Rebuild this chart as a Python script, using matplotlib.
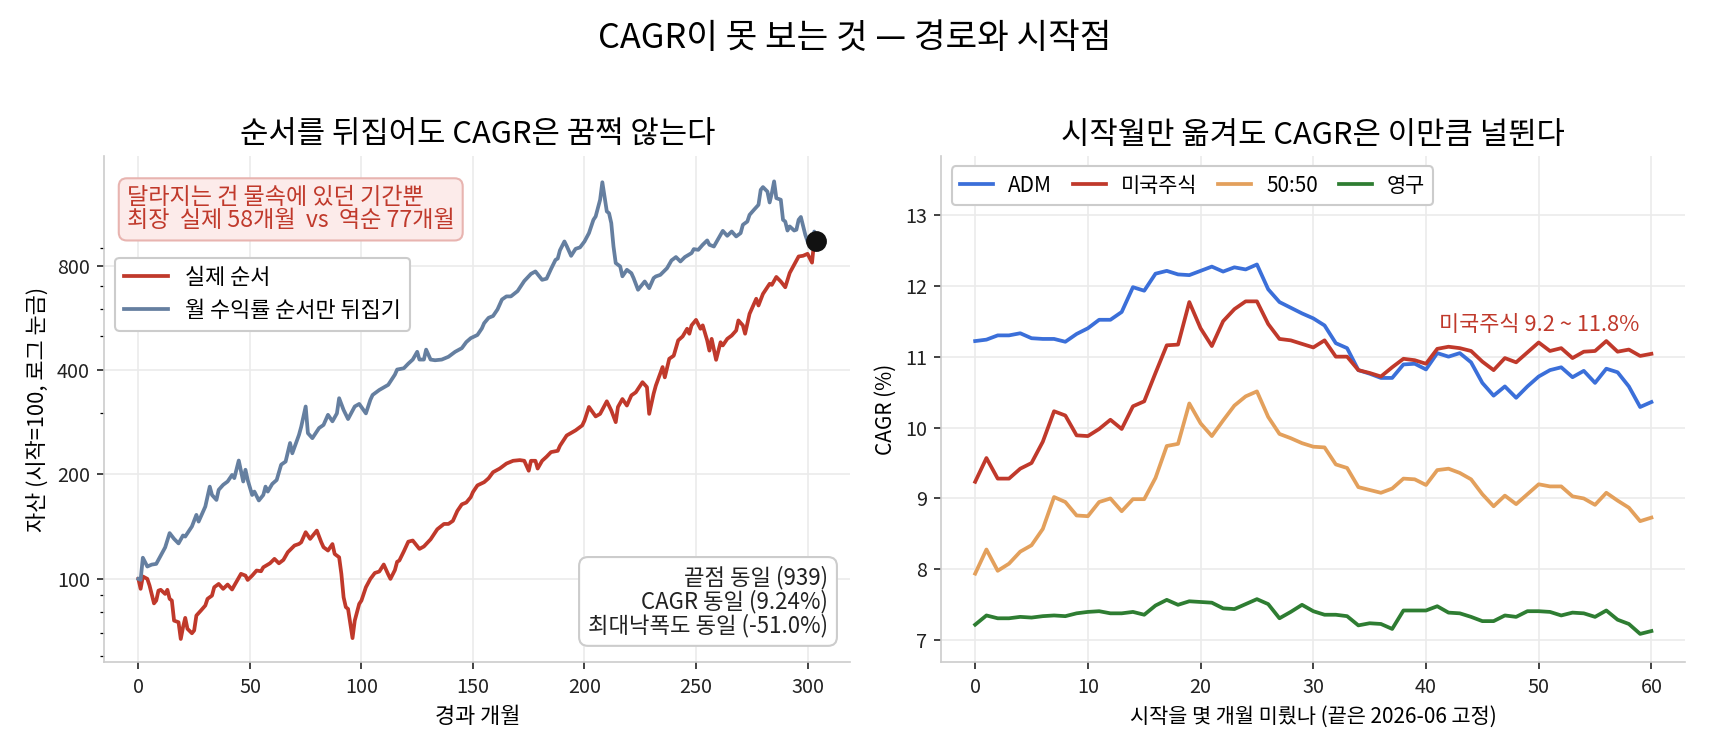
import numpy as np
import matplotlib.pyplot as plt
from matplotlib.ticker import FixedLocator, FixedFormatter, NullFormatter

plt.rcParams['font.family'] = ['Noto Sans CJK KR', 'DejaVu Sans']
plt.rcParams['axes.unicode_minus'] = False

# 왼쪽: 실제 순서 자산 경로 (읽어낸 값, 월 단위)
red_months = [0, 1, 2, 4, 5, 7, 8, 9, 10, 12, 13, 14, 15, 16, 18, 19, 20, 21, 22, 24,
              25, 26, 28, 30, 31, 33, 34, 36, 38, 40, 42, 43, 46, 48, 49, 51, 53, 55, 56, 59,
              61, 63, 65, 67, 70, 72, 73, 75, 77, 80, 82, 83, 85, 87, 88, 90, 91, 92, 93, 94,
              96, 97, 99, 100, 102, 104, 106, 108, 110, 112, 113, 115, 116, 117, 119, 121, 123, 126, 128, 131,
              134, 137, 139, 141, 143, 145, 147, 149, 150, 152, 155, 157, 159, 162, 165, 168, 171, 173, 175, 176,
              178, 179, 181, 183, 185, 188, 189, 192, 196, 199, 200, 202, 205, 207, 210, 212, 214, 215, 217, 219,
              221, 223, 226, 228, 229, 231, 232, 235, 236, 238, 240, 242, 244, 246, 247, 248, 250, 252, 253, 255,
              256, 257, 259, 261, 262, 264, 266, 268, 269, 271, 272, 274, 277, 278, 280, 283, 284, 286, 288, 290,
              292, 294, 296, 298, 300, 302, 303, 304]
red_values = [100, 93.6, 101.6, 100, 95.7, 85, 86.6, 92.5, 93, 90.5, 93, 87.6, 86.6, 75.8, 75, 67.1, 72.5, 77.2, 71.8, 69.7,
              71, 78.4, 81, 83.8, 87.6, 89.5, 94.6, 96.7, 93.6, 96.3, 93.2, 95.7, 103.4, 102.2, 99.3, 102.2, 105.7, 105.2, 108, 110.9,
              114.2, 110.9, 113.4, 119.4, 124.8, 126.1, 127.5, 136.3, 130.4, 137.8, 127.5, 123.4, 120.7, 126, 118, 115.4, 103.4, 88.5, 82.9, 81.9,
              67.5, 75.8, 84.7, 86.6, 94.6, 100, 104, 105, 110, 103, 100, 106, 112, 113, 120, 128, 129, 122, 124, 130,
              139, 144, 144, 147, 157, 164, 166, 172, 178, 186, 190, 195, 203, 208, 215, 219, 220, 219, 205, 219,
              219, 208, 219, 225, 232, 234, 242, 259, 268, 277, 286, 313, 294, 299, 325, 306, 283, 313, 330, 316,
              338, 345, 369, 357, 299, 342, 361, 408, 381, 431, 440, 487, 500, 526, 509, 538, 558, 526, 538, 487,
              455, 492, 428, 481, 471, 492, 503, 520, 556, 538, 509, 581, 642, 614, 663, 709, 704, 742, 720, 693,
              762, 805, 850, 854, 865, 816, 945, 939]

# 오른쪽: 시작월을 미룬 개월 수별 CAGR (%)
shift_months = list(range(61))
adm_cagr = [11.22, 11.24, 11.30, 11.30, 11.33, 11.26, 11.25, 11.25, 11.21, 11.32,
            11.40, 11.52, 11.52, 11.63, 11.98, 11.93, 12.17, 12.21, 12.16, 12.15,
            12.21, 12.27, 12.20, 12.26, 12.23, 12.30, 11.95, 11.77, 11.69, 11.61,
            11.54, 11.44, 11.19, 11.12, 10.81, 10.76, 10.70, 10.70, 10.89, 10.90,
            10.82, 11.05, 11.00, 11.05, 10.92, 10.63, 10.45, 10.58, 10.42, 10.58,
            10.72, 10.81, 10.85, 10.71, 10.80, 10.63, 10.83, 10.78, 10.58, 10.29, 10.36]
us_cagr = [9.235, 9.57, 9.28, 9.28, 9.42, 9.50, 9.80, 10.23, 10.17, 9.89,
           9.88, 9.98, 10.11, 9.98, 10.30, 10.37, 10.77, 11.16, 11.17, 11.77,
           11.40, 11.15, 11.50, 11.67, 11.78, 11.78, 11.46, 11.25, 11.23, 11.18,
           11.13, 11.23, 11.00, 11.00, 10.81, 10.77, 10.72, 10.85, 10.97, 10.95,
           10.90, 11.11, 11.14, 11.12, 11.08, 10.93, 10.81, 10.98, 10.92, 11.06,
           11.20, 11.08, 11.12, 10.98, 11.07, 11.08, 11.22, 11.07, 11.10, 11.01, 11.04]
mix_cagr = [7.94, 8.28, 7.98, 8.08, 8.25, 8.34, 8.57, 9.02, 8.95, 8.76,
            8.75, 8.95, 9.00, 8.82, 8.99, 8.99, 9.29, 9.74, 9.77, 10.34,
            10.06, 9.88, 10.10, 10.31, 10.44, 10.51, 10.15, 9.91, 9.85, 9.78,
            9.73, 9.72, 9.48, 9.43, 9.16, 9.12, 9.08, 9.14, 9.28, 9.27,
            9.19, 9.40, 9.42, 9.36, 9.27, 9.06, 8.89, 9.04, 8.92, 9.06,
            9.20, 9.17, 9.17, 9.03, 9.00, 8.91, 9.08, 8.97, 8.87, 8.68, 8.73]
perm_cagr = [7.22, 7.35, 7.31, 7.31, 7.33, 7.32, 7.34, 7.35, 7.34, 7.38,
             7.40, 7.41, 7.38, 7.38, 7.40, 7.36, 7.49, 7.57, 7.50, 7.55,
             7.54, 7.53, 7.45, 7.44, 7.51, 7.58, 7.51, 7.31, 7.40, 7.50,
             7.41, 7.36, 7.36, 7.34, 7.21, 7.24, 7.23, 7.16, 7.42, 7.42,
             7.42, 7.48, 7.39, 7.38, 7.33, 7.27, 7.27, 7.35, 7.33, 7.41,
             7.41, 7.40, 7.35, 7.39, 7.38, 7.33, 7.42, 7.29, 7.23, 7.09, 7.13]

RED = '#c0392b'
SLATE = '#657fa0'

# 월 수익률 순서를 뒤집으면 B[k] = 끝값 * 100 / A[N-k]
red_m = np.array(red_months)
red_v = np.array(red_values, dtype=float)
N = red_m[-1]
rev_m = N - red_m[::-1]
rev_v = red_v[-1] * 100 / red_v[::-1]

fig = plt.figure(figsize=(11.4, 5), dpi=150)
ax1 = fig.add_axes([0.0611, 0.117, 0.4362, 0.675])
ax2 = fig.add_axes([0.5505, 0.117, 0.4350, 0.675])

for ax in (ax1, ax2):
    ax.set_axisbelow(True)
    ax.grid(True, color='#ebebeb', lw=0.8)
    for s in ('top', 'right'):
        ax.spines[s].set_visible(False)
    for s in ('left', 'bottom'):
        ax.spines[s].set_color('#cccccc')
    ax.tick_params(labelsize=9.5, colors='#222222')

# ---- 왼쪽
ax1.plot(red_m, red_v, color=RED, lw=1.8, label='실제 순서')
ax1.plot(rev_m, rev_v, color=SLATE, lw=1.8, label='월 수익률 순서만 뒤집기')
ax1.plot([N], [red_v[-1]], 'o', color='#111111', ms=9, zorder=5)
ax1.set_yscale('log')
ax1.set_ylim(57.5, 1656)
ax1.yaxis.set_major_locator(FixedLocator([100, 200, 400, 800]))
ax1.yaxis.set_major_formatter(FixedFormatter(['100', '200', '400', '800']))
ax1.yaxis.set_minor_formatter(NullFormatter())
ax1.set_xticks([0, 50, 100, 150, 200, 250, 300])
ax1.set_xlabel('경과 개월', fontsize=10.5)
ax1.set_ylabel('자산 (시작=100, 로그 눈금)', fontsize=10.5)
ax1.set_title('순서를 뒤집어도 CAGR은 꿈쩍 않는다', fontsize=14.8)

ax1.text(0.03, 0.94, '달라지는 건 물속에 있던 기간뿐\n최장  실제 58개월  vs  역순 77개월',
         transform=ax1.transAxes, ha='left', va='top', fontsize=11.1, color=RED,
         linespacing=1.0,
         bbox=dict(boxstyle='round,pad=0.35', fc='#fcebea', ec='#e8b4b0', lw=1))
ax1.legend(loc='upper left', bbox_to_anchor=(0.0, 0.82), fontsize=10.5,
           framealpha=1, edgecolor='#cccccc', handlelength=2.0)
ax1.text(0.97, 0.05, '끝점 동일 (939)\nCAGR 동일 (9.24%)\n최대낙폭도 동일 (-51.0%)',
         transform=ax1.transAxes, ha='right', va='bottom', fontsize=10.7,
         color='#222222', linespacing=1.0, multialignment='right',
         bbox=dict(boxstyle='round,pad=0.4', fc='white', ec='#cccccc', lw=1))

# ---- 오른쪽
ax2.plot(shift_months, adm_cagr, color='#3b6fd9', lw=1.8, label='ADM')
ax2.plot(shift_months, us_cagr, color=RED, lw=1.8, label='미국주식')
ax2.plot(shift_months, mix_cagr, color='#e3a05c', lw=1.8, label='50:50')
ax2.plot(shift_months, perm_cagr, color='#2e7d32', lw=1.8, label='영구')
ax2.set_ylim(6.69, 13.83)
ax2.set_yticks([7, 8, 9, 10, 11, 12, 13])
ax2.set_xticks([0, 10, 20, 30, 40, 50, 60])
ax2.set_xlabel('시작을 몇 개월 미뤘나 (끝은 2026-06 고정)', fontsize=10)
ax2.set_ylabel('CAGR (%)', fontsize=10)
ax2.set_title('시작월만 옮겨도 CAGR은 이만큼 널뛴다', fontsize=14.8)
ax2.legend(loc='upper left', ncol=4, fontsize=10, framealpha=1,
           edgecolor='#cccccc', handlelength=1.6, handletextpad=0.7,
           columnspacing=1.0)
ax2.text(50, 11.45, f'미국주식 {min(us_cagr):.1f} ~ {max(us_cagr):.1f}%',
         ha='center', va='center', fontsize=10.5, color=RED)

fig.suptitle('CAGR이 못 보는 것 — 경로와 시작점', fontsize=16.5, y=0.972)

fig.savefig('out.png', dpi=150)
